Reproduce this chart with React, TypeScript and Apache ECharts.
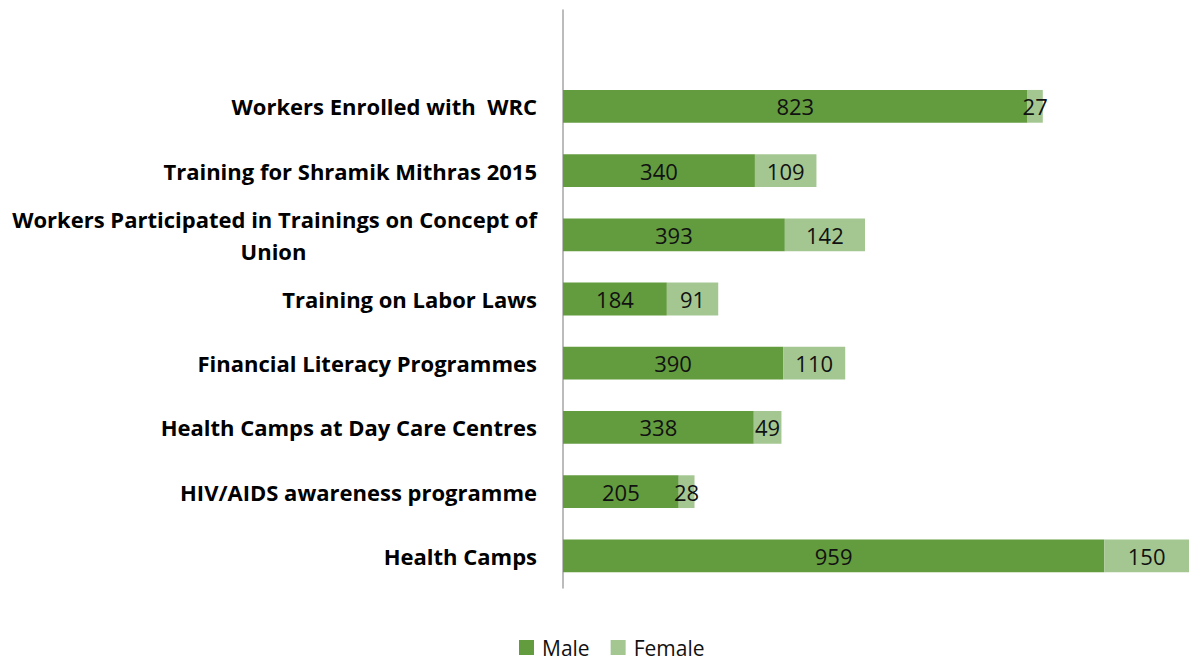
import React, { useEffect, useRef } from "react";
import * as echarts from "echarts";

const categories = [
  "",
  "Workers Enrolled with  WRC",
  "Training for Shramik Mithras 2015",
  "Workers Participated in Trainings on Concept of\nUnion",
  "Training on Labor Laws",
  "Financial Literacy Programmes",
  "Health Camps at Day Care Centres",
  "HIV/AIDS awareness programme",
  "Health Camps",
];
const maleValues = [null, 823, 340, 393, 184, 390, 338, 205, 959];
const femaleValues = [null, 27, 109, 142, 91, 110, 49, 28, 150];
const legendNames = ["Male", "Female"];

const FONT = "'Open Sans', Lato, sans-serif";

export default function App() {
  const ref = useRef<HTMLDivElement>(null);
  useEffect(() => {
    document.body.style.margin = "0";
    const chart = echarts.init(ref.current!, undefined, { renderer: "svg" });
    chart.setOption({
      animation: false,
      textStyle: { fontFamily: FONT },
      grid: { left: 563, right: 0, top: 10, bottom: 73, containLabel: false },
      legend: {
        left: 519,
        top: 637,
        padding: 0,
        itemWidth: 15,
        itemHeight: 15,
        itemGap: 21,
        icon: "rect",
        textStyle: { fontSize: 21, lineHeight: 20, color: "#111", fontFamily: FONT, padding: [0, 0, 0, 3] },
        data: legendNames,
      },
      xAxis: {
        type: "value",
        min: 0,
        max: 1109,
        show: false,
        splitLine: { show: false },
      },
      yAxis: {
        type: "category",
        inverse: true,
        data: categories,
        axisLine: { show: true, lineStyle: { color: "#A6A6A6", width: 1.5 } },
        axisTick: { show: false },
        axisLabel: {
          margin: 26,
          fontSize: 22,
          fontWeight: "bold",
          color: "#000",
          fontFamily: FONT,
          lineHeight: 32,
          formatter: (v: string) => {
            const parts = v.split("\n");
            if (parts.length > 1) {
              return "{a|" + parts[0] + "}\n{c|" + parts[1] + "}";
            }
            return "{a|" + v + "}";
          },
          rich: {
            a: { fontSize: 22, fontWeight: "bold", color: "#000", fontFamily: FONT, lineHeight: 32 },
            c: { fontSize: 22, fontWeight: "bold", color: "#000", fontFamily: FONT, lineHeight: 32, width: 527, align: "center" },
          },
        },
      },
      series: [
        {
          name: "Male",
          type: "bar",
          stack: "total",
          barWidth: "51%",
          data: maleValues,
          itemStyle: { color: "#639B3F" },
          label: { show: true, position: "inside", fontSize: 22, color: "#111", fontFamily: FONT },
        },
        {
          name: "Female",
          type: "bar",
          stack: "total",
          barWidth: "51%",
          data: femaleValues,
          itemStyle: { color: "#A4C792" },
          label: { show: true, position: "inside", fontSize: 22, color: "#111", fontFamily: FONT },
        },
      ],
    });
    return () => chart.dispose();
  }, []);
  return <div ref={ref} style={{ width: 1189, height: 661 }} />;
}
